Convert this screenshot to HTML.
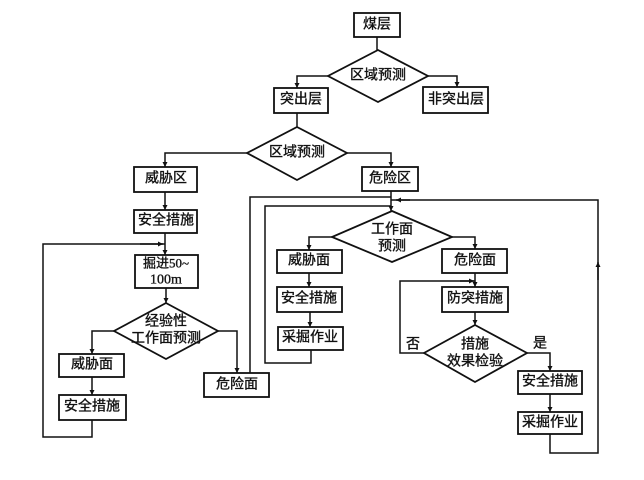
<!DOCTYPE html>
<html>
<head>
<meta charset="utf-8">
<style>
html,body{margin:0;padding:0;background:#fff;}
svg{display:block;}
text{font-family:"Liberation Serif","Noto Sans CJK SC",serif;font-size:14px;fill:#111;stroke:#111;stroke-width:0.35px;}
</style>
</head>
<body>
<svg width="644" height="480" viewBox="0 0 644 480" xmlns="http://www.w3.org/2000/svg">
<defs>
<marker id="a" markerWidth="6" markerHeight="6" refX="5" refY="3" orient="auto" markerUnits="userSpaceOnUse">
<path d="M0,0.5 L5,3 L0,5.5 z" fill="#111"/>
</marker>
</defs>
<rect width="644" height="480" fill="#fff"/>
<g fill="#fff" stroke="#111" stroke-width="1.8">
<rect x="354" y="13" width="46" height="24"/>
<rect x="274" y="88" width="54" height="25"/>
<rect x="423" y="87" width="65" height="26"/>
<rect x="134" y="167" width="63" height="25"/>
<rect x="362" y="167" width="56" height="24"/>
<rect x="134" y="210" width="63" height="23"/>
<rect x="135" y="255" width="63" height="33"/>
<rect x="59" y="354" width="65" height="23"/>
<rect x="59" y="395" width="67" height="25"/>
<rect x="204" y="373" width="65" height="24"/>
<rect x="277" y="250" width="65" height="23"/>
<rect x="277" y="287" width="65" height="25"/>
<rect x="278" y="327" width="65" height="23"/>
<rect x="442" y="249" width="65" height="24"/>
<rect x="442" y="287" width="66" height="25"/>
<rect x="518" y="371" width="64" height="23"/>
<rect x="518" y="412" width="64" height="22"/>
<polygon points="378,50 428,76 378,102 328,76"/>
<polygon points="297,127 347,153 297,180 247,153"/>
<polygon points="166,303 218,331 166,359 114,331"/>
<polygon points="392,211 452,237 392,262 332,237"/>
<polygon points="475,325 527,353 475,382 424,353"/>
</g>
<g fill="none" stroke="#111" stroke-width="1.5">
<line x1="377" y1="37" x2="377" y2="50"/>
<polyline points="328,76 297,76 297,88" marker-end="url(#a)"/>
<polyline points="428,76 457,76 457,87" marker-end="url(#a)"/>
<line x1="297" y1="113" x2="297" y2="127"/>
<polyline points="247,153 165,153 165,167" marker-end="url(#a)"/>
<polyline points="347,153 391,153 391,167" marker-end="url(#a)"/>
<line x1="165" y1="192" x2="165" y2="210" marker-end="url(#a)"/>
<line x1="165" y1="233" x2="165" y2="255" marker-end="url(#a)"/>
<polyline points="92,420 92,437 43,437 43,244 165,244"/>
<line x1="140" y1="244" x2="163" y2="244" marker-end="url(#a)"/>
<line x1="166" y1="288" x2="166" y2="303" marker-end="url(#a)"/>
<polyline points="114,331 92,331 92,354" marker-end="url(#a)"/>
<line x1="92" y1="377" x2="92" y2="395" marker-end="url(#a)"/>
<polyline points="218,331 237,331 237,373" marker-end="url(#a)"/>
<polyline points="250,373 250,197 391,197"/>
<line x1="391" y1="191" x2="391" y2="211" marker-end="url(#a)"/>
<polyline points="311,350 311,363 265,363 265,206 391,206"/>
<polyline points="332,237 309,237 309,250" marker-end="url(#a)"/>
<line x1="309" y1="273" x2="309" y2="287" marker-end="url(#a)"/>
<line x1="310" y1="312" x2="310" y2="327" marker-end="url(#a)"/>
<polyline points="452,237 475,237 475,249" marker-end="url(#a)"/>
<line x1="475" y1="273" x2="475" y2="287" marker-end="url(#a)"/>
<line x1="475" y1="312" x2="475" y2="325" marker-end="url(#a)"/>
<polyline points="424,353 400,353 400,281 475,281"/>
<line x1="460" y1="281" x2="474" y2="281" marker-end="url(#a)"/>
<polyline points="527,353 550,353 550,371" marker-end="url(#a)"/>
<line x1="550" y1="394" x2="550" y2="412" marker-end="url(#a)"/>
<polyline points="550,434 550,453 598,453 598,200 391,200"/>
<line x1="598" y1="280" x2="598" y2="262" marker-end="url(#a)"/>
<line x1="410" y1="200" x2="396" y2="200" marker-end="url(#a)"/>
</g>
<g text-anchor="middle" dominant-baseline="central">
<text x="377" y="25">煤层</text>
<text x="378" y="76">区域预测</text>
<text x="301" y="100">突出层</text>
<text x="456" y="100">非突出层</text>
<text x="297" y="153">区域预测</text>
<text x="166" y="179">威胁区</text>
<text x="390" y="179">危险区</text>
<text x="166" y="221">安全措施</text>
<text x="166" y="263" style="font-size:13px">掘进50~</text>
<text x="166" y="280">100m</text>
<text x="166" y="322">经验性</text>
<text x="166" y="339">工作面预测</text>
<text x="92" y="365">威胁面</text>
<text x="92" y="407">安全措施</text>
<text x="237" y="385">危险面</text>
<text x="392" y="230">工作面</text>
<text x="392" y="247">预测</text>
<text x="309" y="261">威胁面</text>
<text x="309" y="299">安全措施</text>
<text x="310" y="338">采掘作业</text>
<text x="475" y="261">危险面</text>
<text x="475" y="299">防突措施</text>
<text x="475" y="345">措施</text>
<text x="475" y="362">效果检验</text>
<text x="413" y="345">否</text>
<text x="540" y="344">是</text>
<text x="550" y="382">安全措施</text>
<text x="550" y="423">采掘作业</text>
</g>
</svg>
</body>
</html>
